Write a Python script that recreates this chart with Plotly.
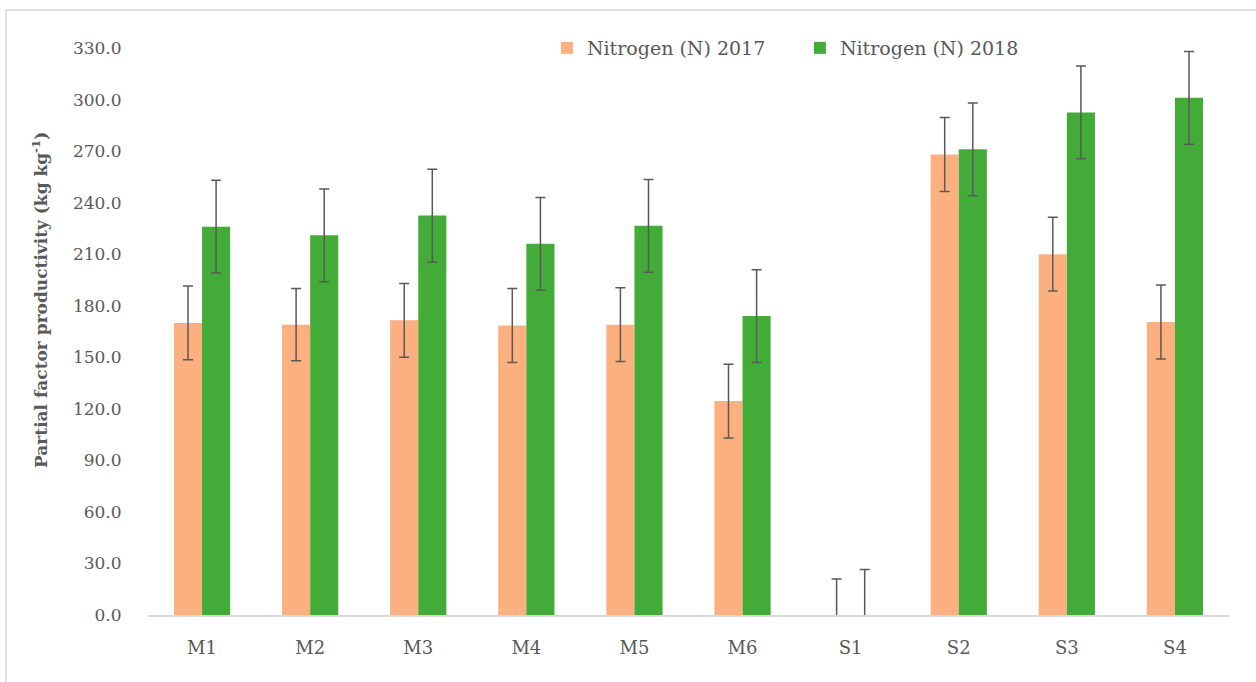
import plotly.graph_objects as go

categories = ["M1", "M2", "M3", "M4", "M5", "M6", "S1", "S2", "S3", "S4"]
n2017 = [170.0, 169.0, 171.5, 168.5, 169.0, 124.5, 0.0, 268.0, 210.0, 170.5]
n2017_err = [21.5, 21.0, 21.5, 21.5, 21.5, 21.5, 21.0, 21.5, 21.5, 21.5]
n2018 = [226.0, 221.0, 232.5, 216.0, 226.5, 174.0, 0.0, 271.0, 292.5, 301.0]
n2018_err = [27.0, 27.0, 27.0, 27.0, 27.0, 27.0, 26.5, 27.0, 27.0, 27.0]
yticks = [0, 30, 60, 90, 120, 150, 180, 210, 240, 270, 300, 330]

FONT = "Palatino Linotype, Book Antiqua, Palatino, DejaVu Serif, serif"
GRAY = "#595959"

fig = go.Figure()
fig.add_trace(go.Bar(
    x=categories, y=n2017, name="Nitrogen (N) 2017",
    marker=dict(color="#FCB07F", line=dict(width=0)),
    error_y=dict(type="data", array=n2017_err, color=GRAY, thickness=1.5, width=5),
))
fig.add_trace(go.Bar(
    x=categories, y=n2018, name="Nitrogen (N) 2018",
    marker=dict(color="#43AC39", line=dict(width=0)),
    error_y=dict(type="data", array=n2018_err, color=GRAY, thickness=1.5, width=5),
))

fig.update_layout(
    width=1256, height=682,
    margin=dict(l=148, r=27, t=48, b=67),
    paper_bgcolor="white", plot_bgcolor="white",
    barmode="group", bargap=0.48, bargroupgap=0,
    font=dict(family=FONT, color=GRAY, size=17),
    legend=dict(orientation="h", x=0.369, y=1.0, xanchor="left", yanchor="middle",
                font=dict(size=19, color=GRAY), itemwidth=30,
                entrywidth=208, entrywidthmode="pixels",
                bgcolor="rgba(0,0,0,0)"),
    showlegend=True,
)
fig.update_xaxes(
    showline=True, linecolor="#D9D9D9", linewidth=1.5,
    showgrid=False, ticks="", ticklabelstandoff=16,
    tickfont=dict(size=18, color=GRAY),
)
fig.update_yaxes(
    range=[0, 330], tickvals=yticks, ticktext=[f"{v:.1f}" for v in yticks],
    showgrid=False, zeroline=False, showline=False,
    ticks="outside", ticklen=22, tickcolor="rgba(0,0,0,0)",
    tickfont=dict(size=17, color=GRAY),
)
fig.add_annotation(
    text="<b>Partial factor productivity (kg kg<sup>-1</sup>)</b>",
    textangle=-90, xref="paper", yref="paper",
    x=(40 - 148) / 1081, y=(615 - 300) / 567,
    xanchor="center", yanchor="middle", showarrow=False,
    font=dict(size=17, color=GRAY, family=FONT),
)
# outer chart frame (only its left and top edges fall inside the image)
fig.add_shape(type="rect", xref="paper", yref="paper",
              x0=(6 - 148) / 1081, x1=(1270 - 148) / 1081,
              y0=(615 - 700) / 567, y1=(615 - 10) / 567,
              line=dict(color="#D9D9D9", width=1.5), fillcolor="rgba(0,0,0,0)")

fig.write_html("out.html", config={"displayModeBar": False},
               post_script="document.body.style.margin='0';")
